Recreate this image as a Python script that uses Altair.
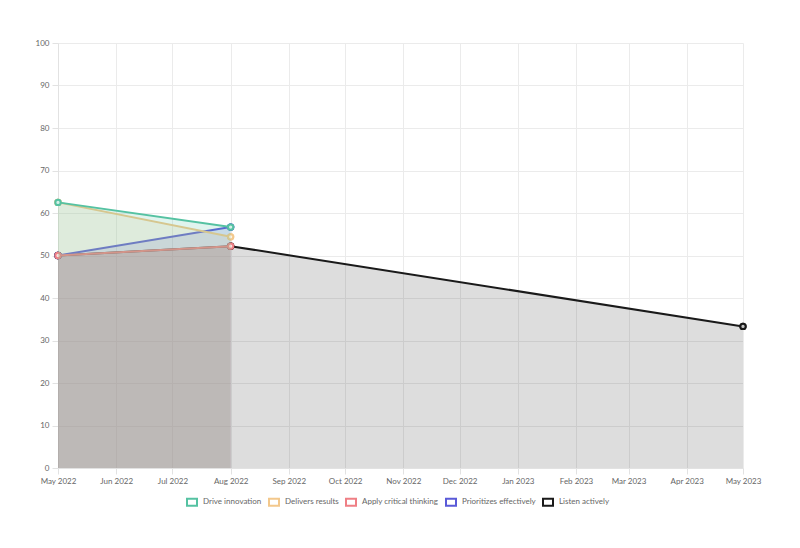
import altair as alt
import pandas as pd

# ---- data ----
dates = ["2022-05-01T00:00:00", "2022-08-01T00:00:00", "2023-05-01T00:00:00"]
series_names = ["Drive innovation", "Delivers results", "Apply critical thinking",
                "Prioritizes effectively", "Listen actively"]
drive_innovation = [62.5, 56.7, None]
delivers_results = [62.5, 54.4, None]
apply_critical = [50.0, 52.2, None]
prioritizes = [50.0, 56.7, None]
listen_actively = [50.0, 52.2, 33.3]

line_colors = ["#55c2a2", "#f3c88c", "#ef7f85", "#5a5ad8", "#1a1a1a"]
fill_opacities = [0.18, 0.18, 0.24, 0.18, 0.15]

values = [drive_innovation, delivers_results, apply_critical, prioritizes, listen_actively]
rows = []
for name, vals in zip(series_names, values):
    for d, v in zip(dates, vals):
        if v is not None:
            rows.append({"date": d, "series": name, "value": v})
df = pd.DataFrame(rows)

FONT = "Lato"
x_enc = alt.X("date:T",
              scale=alt.Scale(domain=[dates[0], dates[-1]]),
              axis=alt.Axis(title=None, format="%b %Y", tickCount="month",
                            labelFlush=False, labelOverlap=False))
y_enc = alt.Y("value:Q", stack=None,
              scale=alt.Scale(domain=[0, 100], nice=False),
              axis=alt.Axis(title=None, values=list(range(0, 101, 10))))
scale = alt.Scale(domain=series_names, range=line_colors)

# hollow box symbol (outer rectangle with inner hole) like Chart.js legend boxes
BOX = "M-1,-0.75H1V0.75H-1Z M-0.667,-0.417V0.417H0.667V-0.417Z"
LEG = alt.Legend(title=None, orient="none", legendX=128, legendY=453,
                 direction="horizontal", symbolType=BOX,
                 symbolSize=144, symbolStrokeWidth=0,
                 labelFontSize=8, labelColor="#666666", labelFont=FONT,
                 columnPadding=6, labelOffset=5)

color_enc = alt.Color("series:N", scale=scale, legend=LEG)

base = alt.Chart(df)
# first layer: ring points (lowest z), covered later by the real points
layers = [base.mark_point(shape="circle", filled=False, size=28, strokeWidth=2, opacity=1).encode(
    x=x_enc, y=y_enc, color=color_enc)]
# Chart.js draws first dataset on top -> build in reverse order
for name, op in reversed(list(zip(series_names, fill_opacities))):
    sub = base.transform_filter(alt.datum.series == name)
    area = sub.mark_area(fillOpacity=op, interpolate="linear").encode(
        x=x_enc, y=y_enc, color=color_enc,
    )
    line = sub.mark_line(strokeWidth=2).encode(
        x=x_enc, y=y_enc, color=color_enc,
    )
    pts_bg = sub.mark_point(shape="circle", filled=True, size=28, opacity=1,
                            color="white").encode(x=x_enc, y=y_enc)
    pts_tint = sub.mark_point(shape="circle", filled=True, size=28, opacity=0.25).encode(
        x=x_enc, y=y_enc, color=color_enc,
    )
    pts = sub.mark_point(shape="circle", filled=False, size=28, strokeWidth=2, opacity=1).encode(
        x=x_enc, y=y_enc, color=color_enc,
    )
    layers += [area, line, pts_bg, pts_tint, pts]

chart = alt.layer(*layers).properties(
    width=685, height=425,
    autosize=alt.AutoSizeParams(type="none"),
    padding={"left": 50, "top": 35, "right": 40, "bottom": 70},
).configure_view(stroke=None).configure_axis(
    labelFont=FONT, labelFontSize=8, labelColor="#666666",
    gridColor="#ebebeb", gridWidth=1,
    domainColor="#e2e2e2", tickColor="#e2e2e2", tickSize=6, labelPadding=3,
)

chart.save("out.html", embed_options={"renderer": "svg", "actions": False})
